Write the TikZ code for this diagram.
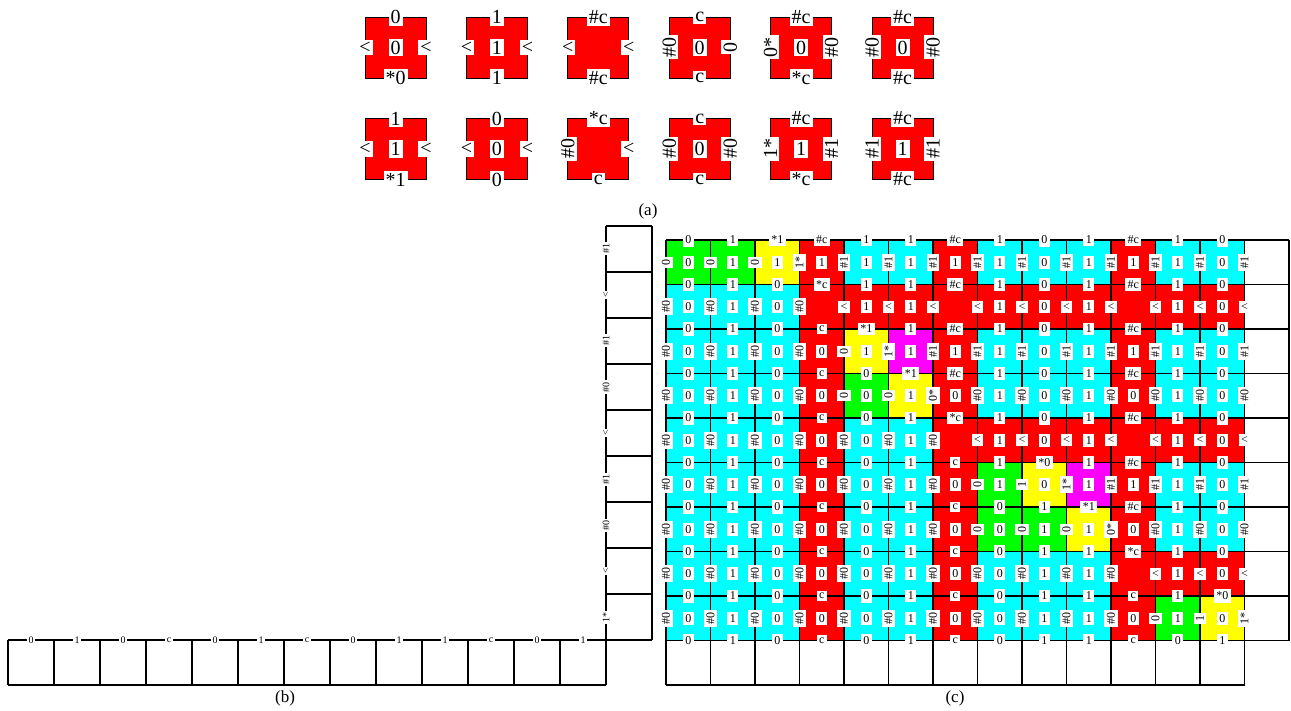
\documentclass[tikz,border=0pt]{standalone}
\usepackage{fontspec}
\setmainfont{Liberation Serif}
\usepackage{tikz}
\definecolor{G}{RGB}{0,255,0}
\definecolor{Y}{RGB}{255,255,0}
\definecolor{R}{RGB}{255,0,0}
\definecolor{C}{RGB}{0,255,255}
\definecolor{M}{RGB}{255,0,255}
% "<" stays upright inside a turned glue label
\newcommand{\wl}{\rotatebox{-90}{<}}

\begin{document}
\begin{tikzpicture}[x=1pt,y=-1pt,
  glab/.style={fill=white,inner sep=2.5pt,font=\fontsize{12}{12}\selectfont},
  vglab/.style={glab,rotate=90},
  alab/.style={fill=white,inner sep=2pt,font=\fontsize{20}{20}\selectfont},
  valab/.style={alab,rotate=90},
  blab/.style={fill=white,inner sep=1.5pt,font=\fontsize{10}{10}\selectfont},
  vblab/.style={blab,rotate=90},
  tilebox/.style={fill=R,draw=black,line width=0.8pt},
  gridline/.style={line width=1.2pt},
  captext/.style={font=\fontsize{17}{17}\selectfont}]
\useasboundingbox (0,0) rectangle (1291,711);

% (a) the tile set
\foreach \x/\y/\tp/\ct/\bt/\lf/\rt in {
  395.5/47.5/0/0/*0/\wl/\wl, 496.9/47.5/1/1/1/\wl/\wl,
  598.3/47.5/\#c/n/\#c/\wl/\wl, 699.7/47.5/c/0/c/\#0/0,
  801.1/47.5/\#c/0/*c/0*/\#0, 902.5/47.5/\#c/0/\#c/\#0/\#0,
  395.5/149/1/1/*1/\wl/\wl, 496.9/149/0/0/0/\wl/\wl,
  598.3/149/*c/n/c/\#0/\wl, 699.7/149/c/0/c/\#0/\#0,
  801.1/149/\#c/1/*c/1*/\#1, 902.5/149/\#c/1/\#c/\#1/\#1}{
  \draw[tilebox] (\x-30.5,\y-30.5) rectangle (\x+30.5,\y+30.5);
  \node[alab] at (\x,\y-30.5) {\tp};
  \node[alab] at (\x,\y+30.5) {\bt};
  \node[valab] at (\x-30.5,\y) {\lf};
  \node[valab] at (\x+30.5,\y) {\rt};
  \if n\ct\else\node[alab] at (\x,\y) {\ct};\fi
}
\node[captext] (capa) at (648,211) {(a)};

% (b) the seed
\draw[gridline] (8,640) -- (652,640) (8,685) -- (606,685);
\foreach \k in {0,...,12} \draw[gridline] (8+46*\k,640) -- (8+46*\k,685);
\draw[gridline] (606,226) -- (606,685) (652,226) -- (652,640);
\foreach \k in {0,...,8} \draw[gridline] (606,226+46*\k) -- (652,226+46*\k);
\foreach \t [count=\k from 0] in {0,1,0,c,0,1,c,0,1,1,c,0,1}
  \node[blab] (b-\k) at (31+46*\k,640) {\t};
\foreach \t [count=\k from 0] in {\#1,<,\#1,\#0,<,\#1,\#0,<,1*}
  \node[vblab] (bv-\k) at (606,249+46*\k) {\t};
\node[captext] (capb) at (285,698) {(b)};

% (c) the assembly grown on the seed
\foreach \i/\cl in {
  0/{G,G,Y,R,C,C,R,C,C,C,R,C,C},
  1/{C,C,C,R,R,R,R,R,R,R,R,R,R},
  2/{C,C,C,R,Y,M,R,C,C,C,R,C,C},
  3/{C,C,C,R,G,Y,R,C,C,C,R,C,C},
  4/{C,C,C,R,C,C,R,R,R,R,R,R,R},
  5/{C,C,C,R,C,C,R,G,Y,M,R,C,C},
  6/{C,C,C,R,C,C,R,G,G,Y,R,C,C},
  7/{C,C,C,R,C,C,R,C,C,C,R,R,R},
  8/{C,C,C,R,C,C,R,C,C,C,R,G,Y}}
  \foreach \cc [count=\j from 0] in \cl
    \fill[fill=\cc] (666+44.5*\j,240+44.5*\i) rectangle ++(44.5,44.5);
\foreach \k in {0,...,13} \draw[gridline] (666+44.5*\k,240) -- (666+44.5*\k,685);
\draw[gridline] (1289,240) -- (1289,640.5);
\foreach \k in {0,...,9} \draw[gridline] (666,240+44.5*\k) -- (1289,240+44.5*\k);
\draw[gridline] (666,685) -- (1244.5,685);
\foreach \i/\hl in {
  0/{0,1,*1,\#c,1,1,\#c,1,0,1,\#c,1,0},
  1/{0,1,0,*c,1,1,\#c,1,0,1,\#c,1,0},
  2/{0,1,0,c,*1,1,\#c,1,0,1,\#c,1,0},
  3/{0,1,0,c,0,*1,\#c,1,0,1,\#c,1,0},
  4/{0,1,0,c,0,1,*c,1,0,1,\#c,1,0},
  5/{0,1,0,c,0,1,c,1,*0,1,\#c,1,0},
  6/{0,1,0,c,0,1,c,0,1,*1,\#c,1,0},
  7/{0,1,0,c,0,1,c,0,1,1,*c,1,0},
  8/{0,1,0,c,0,1,c,0,1,1,c,1,*0},
  9/{0,1,0,c,0,1,c,0,1,1,c,0,1}}
  \foreach \t [count=\j from 0] in \hl
    \node[glab] (h-\i-\j) at (688.25+44.5*\j,240+44.5*\i) {\t};
\foreach \i/\vl in {
  0/{0,0,0,1*,\#1,\#1,\#1,\#1,\#1,\#1,\#1,\#1,\#1,\#1},
  1/{\#0,\#0,\#0,\#0,\wl,\wl,\wl,\wl,\wl,\wl,\wl,\wl,\wl,\wl},
  2/{\#0,\#0,\#0,\#0,0,1*,\#1,\#1,\#1,\#1,\#1,\#1,\#1,\#1},
  3/{\#0,\#0,\#0,\#0,0,0,0*,\#0,\#0,\#0,\#0,\#0,\#0,\#0},
  4/{\#0,\#0,\#0,\#0,\#0,\#0,\#0,\wl,\wl,\wl,\wl,\wl,\wl,\wl},
  5/{\#0,\#0,\#0,\#0,\#0,\#0,\#0,0,1,1*,\#1,\#1,\#1,\#1},
  6/{\#0,\#0,\#0,\#0,\#0,\#0,\#0,0,0,0,0*,\#0,\#0,\#0},
  7/{\#0,\#0,\#0,\#0,\#0,\#0,\#0,\#0,\#0,\#0,\#0,\wl,\wl,\wl},
  8/{\#0,\#0,\#0,\#0,\#0,\#0,\#0,\#0,\#0,\#0,\#0,0,1,1*}}
  \foreach \t [count=\j from 0] in \vl
    \node[vglab] (v-\i-\j) at (666+44.5*\j,262.25+44.5*\i) {\t};
\foreach \i/\ml in {
  0/{0,1,1,1,1,1,1,1,0,1,1,1,0},
  1/{0,1,0,n,1,1,n,1,0,1,n,1,0},
  2/{0,1,0,0,1,1,1,1,0,1,1,1,0},
  3/{0,1,0,0,0,1,0,1,0,1,0,1,0},
  4/{0,1,0,0,0,1,n,1,0,1,n,1,0},
  5/{0,1,0,0,0,1,0,1,0,1,1,1,0},
  6/{0,1,0,0,0,1,0,0,1,1,0,1,0},
  7/{0,1,0,0,0,1,0,0,1,1,n,1,0},
  8/{0,1,0,0,0,1,0,0,1,1,0,1,0}}
  \foreach \t [count=\j from 0] in \ml
    {\if n\t\else\node[glab] (m-\i-\j) at (688.25+44.5*\j,262.25+44.5*\i) {\t};\fi}
\node[captext] (capc) at (955,698) {(c)};
\end{tikzpicture}
\end{document}
